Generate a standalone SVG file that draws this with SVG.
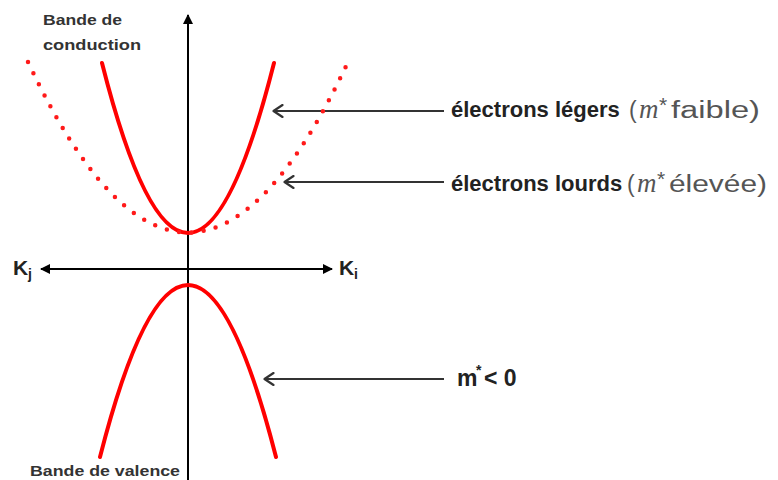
<svg xmlns="http://www.w3.org/2000/svg" width="778" height="480" viewBox="0 0 778 480">
<defs>
<marker id="tri" viewBox="0 0 10 10" refX="9" refY="5" markerWidth="5" markerHeight="5" markerUnits="strokeWidth" orient="auto-start-reverse">
<path d="M0,0 L10,5 L0,10 Z" fill="#000"/>
</marker>
<marker id="chev" viewBox="0 0 12 14" refX="11" refY="7" markerWidth="12" markerHeight="14" markerUnits="userSpaceOnUse" orient="auto-start-reverse">
<path d="M1.5,1 L10.5,7 L1.5,13" fill="none" stroke="#333" stroke-width="2.2" stroke-linecap="round" stroke-linejoin="round"/>
</marker>
<style>
.axis{stroke:#000;stroke-width:2;fill:none}
.band{stroke:#ff0000;stroke-width:4;fill:none;stroke-linecap:round}
.dots{stroke:#ff1a1a;stroke-width:4.5;fill:none;stroke-linecap:round;stroke-dasharray:0 12.4}
.ptr{stroke:#333;stroke-width:2.2;fill:none}
.lbl{font-family:"Liberation Sans",Arial,sans-serif;font-weight:bold;fill:#222}
.small{font-family:"Liberation Sans",Arial,sans-serif;font-weight:bold;fill:#333;font-size:15px}
.bd{font-family:"Liberation Sans",Arial,sans-serif;font-weight:bold;fill:#222;font-size:22px}
.big{font-family:"Liberation Sans",Arial,sans-serif;font-size:23px;fill:#555}
.mi{font-family:"Liberation Serif","Times New Roman",serif;font-style:italic;font-size:27px}
.sup{font-size:21px}
</style>
</defs>

<g id="connectors">
<line class="axis" x1="188" y1="480" x2="188" y2="15" marker-end="url(#tri)"/>
<line class="axis" x1="41" y1="269" x2="332" y2="269" marker-start="url(#tri)" marker-end="url(#tri)"/>
<line class="ptr" x1="444" y1="111" x2="273" y2="111" marker-end="url(#chev)"/>
<line class="ptr" x1="444" y1="182" x2="284" y2="182" marker-end="url(#chev)"/>
<line class="ptr" x1="444" y1="379" x2="264" y2="379" marker-end="url(#chev)"/>
</g>

<g id="conduction-light">
<path class="band" d="M102,63 Q188,403 274,63"/>
</g>
<g id="conduction-heavy">
<path class="dots" d="M28,62 Q188,403 348,62"/>
</g>
<g id="valence">
<path class="band" d="M100,457 Q188,113 276,457"/>
</g>

<g id="label-conduction">
<text class="small" x="43" y="25" textLength="79" lengthAdjust="spacingAndGlyphs">Bande de</text>
<text class="small" x="43" y="50" textLength="98" lengthAdjust="spacingAndGlyphs">conduction</text>
</g>
<g id="label-valence">
<text class="small" x="30" y="476" textLength="150" lengthAdjust="spacingAndGlyphs">Bande de valence</text>
</g>

<g id="label-kj">
<text class="lbl" x="13" y="275" font-size="21">K<tspan x="28" y="279" font-size="14">j</tspan></text>
</g>
<g id="label-ki">
<text class="lbl" x="339" y="275" font-size="21">K<tspan x="354" y="279" font-size="14">i</tspan></text>
</g>

<g id="label-light">
<text class="bd" x="451" y="117">électrons légers</text>
<text class="big" x="629" y="118">(<tspan class="mi" x="639">m</tspan><tspan class="sup" x="659" y="112">*</tspan><tspan x="671" y="118" textLength="89" lengthAdjust="spacingAndGlyphs">faible)</tspan></text>
</g>

<g id="label-heavy">
<text class="bd" x="451" y="191">électrons lourds</text>
<text class="big" x="627" y="192">(<tspan class="mi" x="637">m</tspan><tspan class="sup" x="657" y="186">*</tspan><tspan x="669" y="192" textLength="98" lengthAdjust="spacingAndGlyphs">élevée)</tspan></text>
</g>

<g id="label-negative">
<text class="lbl" x="457" y="386" font-size="23">m<tspan x="476" y="375" font-size="14">*</tspan><tspan x="484" y="386">&lt; 0</tspan></text>
</g>
</svg>
